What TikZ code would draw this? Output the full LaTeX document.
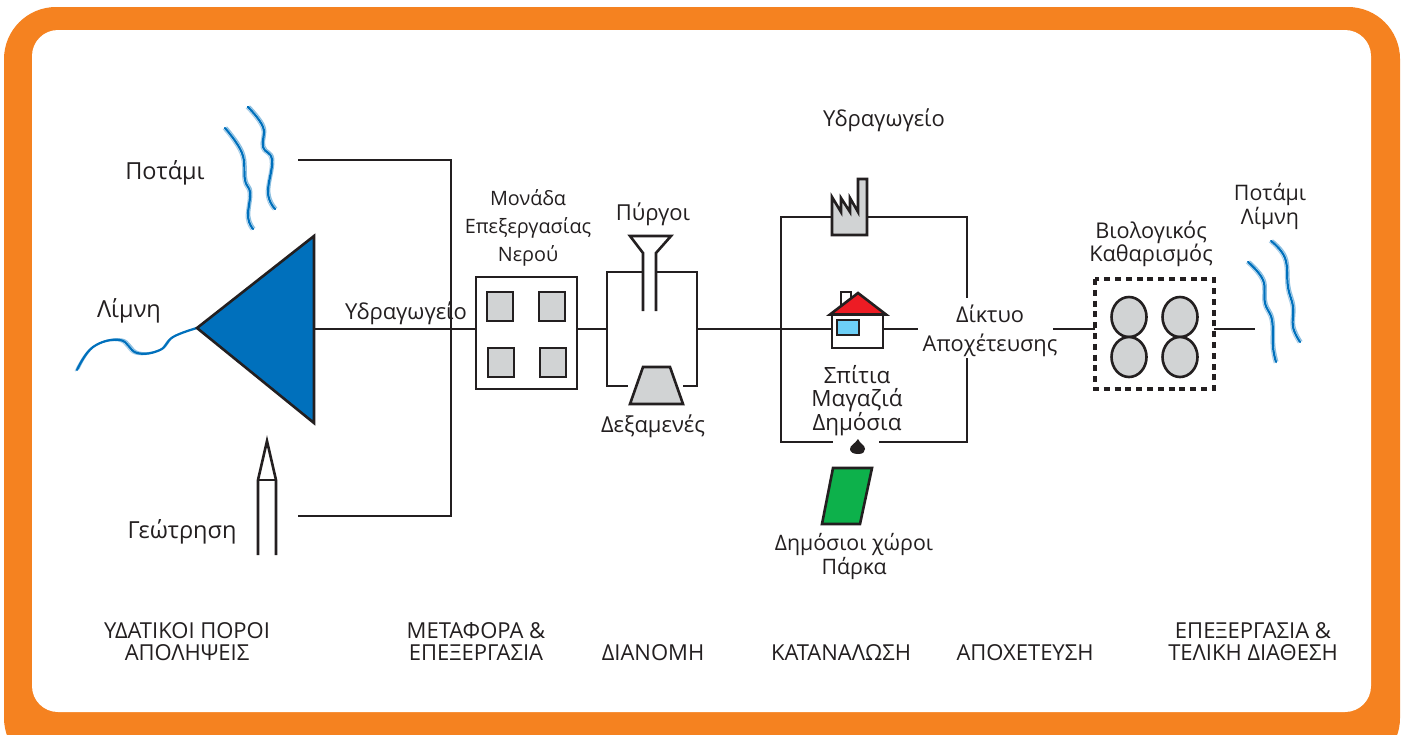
\documentclass[tikz,border=0pt]{standalone}
\usepackage{fontspec}
\setmainfont{Open Sans}
\definecolor{framecol}{HTML}{F58220}
\definecolor{inkcol}{HTML}{231F20}
\definecolor{bluecol}{HTML}{0070BC}
\definecolor{greycol}{HTML}{D1D3D4}
\definecolor{roofcol}{HTML}{ED1C24}
\definecolor{glasscol}{HTML}{6DCFF6}
\definecolor{parkcol}{HTML}{0DB14B}
\tikzset{
	pipe/.style={line width=2.3pt, color=inkcol},
	outline/.style={line width=2.6pt, draw=inkcol, line join=miter},
	greybox/.style={outline, fill=greycol, inner sep=0pt},
	bigtext/.style={inner sep=0pt, align=center, text=inkcol, font=\fontsize{23.5}{28}\selectfont},
	midtext/.style={inner sep=0pt, align=center, text=inkcol, font=\fontsize{22}{24}\selectfont},
	tighttext/.style={inner sep=0pt, align=center, text=inkcol, font=\fontsize{19.8}{28}\selectfont},
	captext/.style={inner sep=0pt, align=center, text=inkcol, font=\fontsize{22}{22}\selectfont},
}
\def\streamline#1{%
	\draw[color=bluecol!45, line width=1.2pt, line cap=round, xshift=1.8pt, yshift=1pt] plot[smooth, tension=0.7] coordinates {#1};
	\draw[color=bluecol!35, line width=1pt, line cap=round, xshift=-1.8pt, yshift=-1pt] plot[smooth, tension=0.7] coordinates {#1};
	\draw[color=bluecol, line width=2.2pt, line cap=round] plot[smooth, tension=0.7] coordinates {#1};
}

\begin{document}
\begin{tikzpicture}[x=1pt, y=-1pt]
		%%%%% FRAME %%%%%
		\useasboundingbox (0, 0) rectangle (1404, 734);
		\clip (0, 0) rectangle (1404, 734);
		\fill[white] (0, 0) rectangle (1404, 734);
		\fill[framecol, rounded corners=52pt] (4, 7) rectangle (1400, 770);
		\fill[white, rounded corners=26pt] (32, 30) rectangle (1371, 712);
		
		%%%%% SOURCES %%%%%
		\streamline{(225,128) (242,153) (245,180) (250,193) (248,217) (253,229)}
		\streamline{(248,107) (263,127) (263,147) (272,160) (268,193) (275,209)}
		\streamline{(77,370) (93,347) (120,340) (137,353) (160,350) (173,337) (197,328)}
		
		\coordinate (dampout) at (314, 329);
		\coordinate (treatin) at (476, 329);
		\coordinate (riverend) at (298, 160);
		\coordinate (wellend) at (298, 516);
		\coordinate (joinriver) at (451, 160);
		\coordinate (joinwell) at (451, 516);
		\draw[pipe] (riverend) -- (joinriver) -- (joinwell) -- (wellend);
		\draw[pipe] (dampout) -- (treatin);
		\draw[outline, fill=bluecol] (197, 328) -- (314, 236) -- (314, 423) -- cycle;
		
		\draw[outline] (258, 555) -- (258, 480) -- (267, 441) -- (276, 480) -- (276, 555);
		\draw[outline] (258, 480) -- (276, 480);
		
		\node[bigtext] (river) at (165, 173) {Ποτάμι};
		\node[bigtext] (lake) at (129, 311) {Λίμνη};
		\node[bigtext] (well) at (182, 532) {Γεώτρηση};
		\node[midtext] (aqueduct) at (406, 313) {Υδραγωγείο};
		
		%%%%% TREATMENT %%%%%
		\draw[outline] (476, 277) rectangle (577, 389);
		\draw[greybox] (487, 292) rectangle (513, 321);
		\draw[greybox] (539, 292) rectangle (565, 321);
		\draw[greybox] (488, 348) rectangle (514, 377);
		\draw[greybox] (540, 348) rectangle (566, 377);
		\node[tighttext] (treat) at (528, 228) {Μονάδα\\Επεξεργασίας\\Νερού};
		
		%%%%% TOWERS %%%%%
		\coordinate (treatout) at (577, 329);
		\coordinate (towerin) at (607, 329);
		\coordinate (towerout) at (697, 329);
		\coordinate (housein) at (832, 329);
		\draw[pipe] (treatout) -- (towerin);
		\draw[pipe] (towerout) -- (housein);
		\draw[outline] (643, 272) -- (607, 272) -- (607, 386) -- (628, 386);
		\draw[outline] (656, 272) -- (697, 272) -- (697, 386) -- (683, 386);
		\draw[outline] (643, 311) -- (643, 253) -- (630, 236) -- (671, 236) -- (656, 253) -- (656, 311);
		\draw[greybox] (643, 367) -- (670, 367) -- (683, 404) -- (630, 404) -- cycle;
		\node[midtext] (tower) at (653, 214) {Πύργοι};
		\node[midtext] (tank) at (653, 426) {Δεξαμενές};
		
		%%%%% CONSUMERS %%%%%
		\coordinate (sewertop) at (967, 298);
		\coordinate (sewerbot) at (967, 358);
		\draw[pipe] (833, 217) -- (781, 217) -- (781, 442) -- (833, 442);
		\draw[pipe] (867, 217) -- (967, 217) -- (sewertop);
		\draw[pipe] (879, 442) -- (967, 442) -- (sewerbot);
		
		\draw[greybox] (832, 197) -- (841, 212) -- (841, 198) -- (850, 212) -- (850, 198) -- (858, 212) -- (858, 179) -- (867, 179) -- (867, 235) -- (832, 235) -- cycle;
		
		\coordinate (houseout) at (883, 329);
		\coordinate (sewerin) at (918, 329);
		\draw[pipe] (houseout) -- (sewerin);
		\draw[outline, fill=white] (841, 306) -- (841, 292) -- (851, 292) -- (851, 306);
		\draw[outline, fill=white] (832, 314) rectangle (883, 348);
		\draw[outline, fill=roofcol] (830, 314.5) -- (858, 293) -- (886, 314.5) -- cycle;
		\draw[outline, fill=glasscol] (837, 320) rectangle (859, 335);
		\fill[inkcol] (858, 439) .. controls (855, 444) and (850, 445) .. (850, 449) .. controls (850, 452) and (853, 454) .. (858, 454) .. controls (863, 454) and (865, 452) .. (865, 449) .. controls (865, 445) and (860, 444) .. (858, 439) -- cycle;
		\draw[outline, fill=parkcol] (833, 468) -- (872, 468) -- (860, 524) -- (822, 524) -- cycle;
		
		\node[midtext] (aqueducttop) at (884, 120) {Υδραγωγείο};
		\node[midtext, font=\fontsize{22.4}{22.5}\selectfont] (homes) at (857, 401) {Σπίτια\\Μαγαζιά\\Δημόσια};
		\node[midtext, font=\fontsize{21.3}{24}\selectfont] (parks) at (854, 556) {Δημόσιοι χώροι\\Πάρκα};
		\node[midtext, font=\fontsize{21.8}{29}\selectfont] (sewer) at (990, 331) {Δίκτυο\\Αποχέτευσης};
		
		%%%%% BIOLOGICAL %%%%%
		\coordinate (sewerout) at (1053, 329);
		\coordinate (bioin) at (1095, 329);
		\coordinate (bioout) at (1214, 329);
		\coordinate (lastend) at (1255, 329);
		\draw[pipe] (sewerout) -- (bioin);
		\draw[pipe] (bioout) -- (lastend);
		\draw[line width=3.6pt, color=inkcol, dash pattern=on 6pt off 4.8pt] (1095, 279) rectangle (1214, 389);
		\foreach \px in {1129, 1180}{
			\foreach \py in {317, 357}{
				\draw[greybox] (\px, \py) ellipse (17.5 and 20);
			}
		}
		\node[midtext, font=\fontsize{21.7}{22}\selectfont] (bio) at (1151, 244) {Βιολογικός\\Καθαρισμός};
		\node[midtext, font=\fontsize{21.4}{24}\selectfont] (outlet) at (1270, 206) {Ποτάμι\\Λίμνη};
		\streamline{(1248,262) (1263,280) (1265,303) (1272,320) (1273,347) (1276,362)}
		\streamline{(1271,241) (1285,258) (1288,287) (1293,307) (1293,327) (1300,342)}
		
		%%%%% CAPTIONS %%%%%
		\node[captext] (capa) at (187, 642) {ΥΔΑΤΙΚΟΙ ΠΟΡΟΙ\\ΑΠΟΛΗΨΕΙΣ};
		\node[captext] (capb) at (476, 642) {ΜΕΤΑΦΟΡΑ \&\\ΕΠΕΞΕΡΓΑΣΙΑ};
		\node[captext] (capc) at (653, 653) {ΔΙΑΝΟΜΗ};
		\node[captext] (capd) at (841, 653) {ΚΑΤΑΝΑΛΩΣΗ};
		\node[captext] (cape) at (1025, 653) {ΑΠΟΧΕΤΕΥΣΗ};
		\node[captext] (capf) at (1253, 642) {ΕΠΕΞΕΡΓΑΣΙΑ \&\\ΤΕΛΙΚΗ ΔΙΑΘΕΣΗ};
	\end{tikzpicture}
\end{document}
